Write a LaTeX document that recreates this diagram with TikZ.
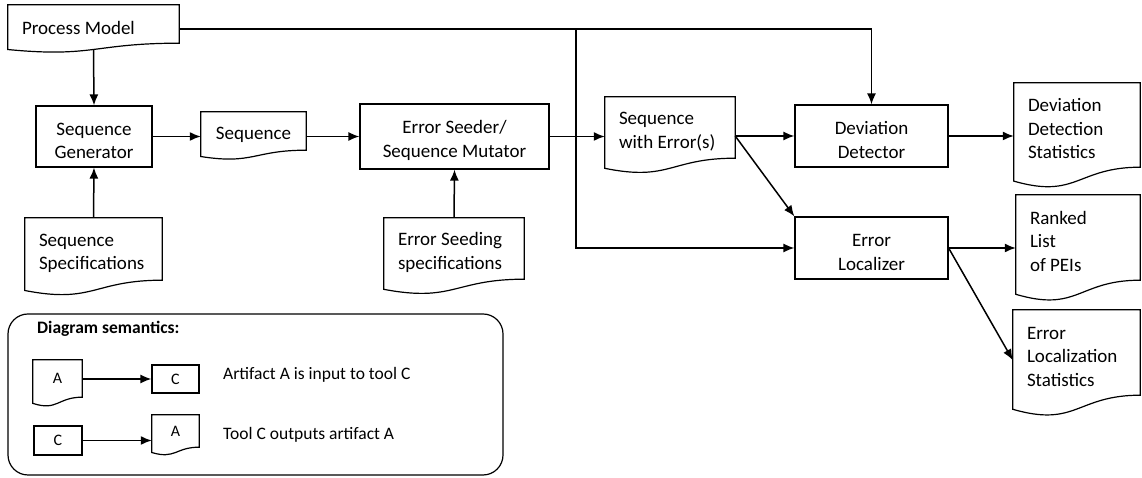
\documentclass[tikz,border=0pt]{standalone}
\usepackage{fontspec}
\setmainfont{Carlito}
\usetikzlibrary{calc,arrows.meta}

\tikzset{
  tool/.style={draw, line width=1.2pt, inner sep=0pt, align=flush center, font=\fontsize{19}{23.5}\selectfont},
  artifact/.style={inner xsep=14pt, inner ysep=0pt, align=flush left, font=\fontsize{19}{23.5}\selectfont},
  lowtext/.style={execute at begin node={\rule{0pt}{21pt}}},
  flow/.style={line width=1.5pt, -{Latex[length=11pt,width=9pt]}},
  legtext/.style={anchor=west, inner sep=0pt, font=\fontsize{17.5}{21}\selectfont},
  legfont/.style={font=\fontsize{16}{19}\selectfont},
}

\begin{document}
\begin{tikzpicture}[x=1pt,y=1pt]
\useasboundingbox (0,0) rectangle (1142,478);

% artifacts
\node[artifact, lowtext, text width=143pt, minimum height=38pt] (model) at (93.5,454) {Process Model};
\node[artifact, lowtext, align=flush center, text width=105pt, inner xsep=0pt, minimum height=38pt] (seq) at (253.5,347) {Sequence};
\node[artifact, lowtext, text width=102pt, minimum height=61pt] (seqerr) at (670,350.5) {Sequence\\with Error(s)};
\node[artifact, lowtext, text width=98pt, minimum height=84pt] (ddstat) at (1077,353) {Deviation\\Detection\\Statistics};
\node[artifact, lowtext, text width=96pt, minimum height=85pt] (ranked) at (1078,240.5) {Ranked\\List\\of PEIs};
\node[artifact, lowtext, text width=99pt, minimum height=85pt] (elstat) at (1076.5,125.5) {Error\\Localization\\Statistics};
\node[artifact, lowtext, text width=109pt, minimum height=62pt] (seqspec) at (93.5,229) {Sequence\\Specifications};
\node[artifact, lowtext, text width=112pt, minimum height=61pt] (errspec) at (454,229.5) {Error Seeding\\specifications};

% tools
\node[tool, lowtext, text width=116pt, minimum height=61pt] (gen) at (94,341.5) {Sequence\\Generator};
\node[tool, lowtext, text width=189pt, minimum height=65pt] (seeder) at (454.5,341.5) {Error Seeder/\\Sequence Mutator};
\node[tool, lowtext, text width=153pt, minimum height=62pt] (devdet) at (871.5,342) {Deviation\\Detector};
\node[tool, lowtext, text width=153pt, minimum height=62pt] (loc) at (871.5,230) {Error\\Localizer};

% legend
\node[draw, rounded corners=20pt, line width=1.2pt, minimum width=495pt, minimum height=161pt] (legend) at (255.5,83.5) {};
\node[legtext, font=\bfseries\fontsize{17.5}{21}\selectfont] (legtitle) at (37,149) {Diagram semantics:};
\node[artifact, legfont, align=center, inner xsep=0pt, minimum width=49pt, minimum height=37pt] (legA) at (57.5,99.5) {A};
\node[tool, legfont, minimum width=47pt, minimum height=28pt] (legC) at (175.5,99) {C};
\node[tool, legfont, minimum width=48pt, minimum height=29pt] (legCout) at (58,37.5) {C};
\node[artifact, legfont, align=center, inner xsep=0pt, minimum width=47pt, minimum height=32pt] (legAout) at (175.5,47) {A};
\node[legtext] (legin) at (223,103) {Artifact A is input to tool C};
\node[legtext] (legout) at (223,43) {Tool C outputs artifact A};

% document outlines
\foreach \n in {model,seq,seqerr,ddstat,ranked,elstat,seqspec,errspec,legA,legAout}
  \draw[line width=1.2pt] (\n.south east) -- (\n.north east) -- (\n.north west)
    -- ($(\n.north west)!1.165!(\n.south west)$)
    .. controls ($(\n.north)!1.381!(\n.south)$) and (\n.south) .. (\n.south east) -- cycle;

% connectors
\coordinate (tap) at (576,449);
\draw[flow] ($(model.north)!1.163!(model.south)$) -- (gen.north);
\draw[flow] (seqspec.north) -- (gen.south);
\draw[flow] (errspec.north) -- (seeder.south);
\draw[flow] (gen.east) -- (gen.east -| seq.west);
\draw[flow] (seq.east |- seeder.west) -- (seeder.west);
\draw[flow] (seeder.east) -- (seeder.east -| seqerr.west);
\draw[flow] (seqerr.east |- devdet.west) -- (devdet.west);
\draw[flow] (seqerr.east |- devdet.west) -- (loc.north west);
\draw[flow] (devdet.east) -- (devdet.east -| ddstat.west);
\draw[flow] (loc.east) -- (loc.east -| ranked.west);
\draw[flow] (loc.east) -- ($(elstat.north west)!0.59!(elstat.south west)$);
\draw[flow] (model.east |- tap) -| (devdet.north);
\draw[flow] (tap) |- (loc.west);
\draw[flow] (legA.east |- legC.west) -- (legC.west);
\draw[flow] (legCout.east) -- (legCout.east -| legAout.west);
\end{tikzpicture}
\end{document}
